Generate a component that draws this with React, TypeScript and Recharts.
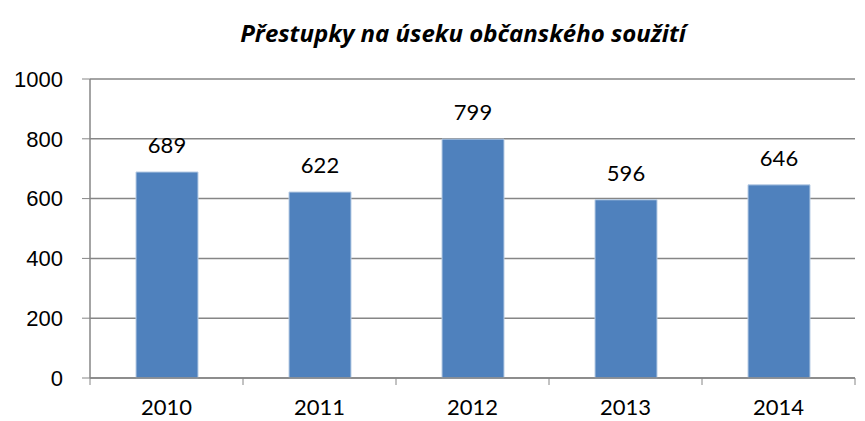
import React from 'react';
import { BarChart, Bar, XAxis, YAxis, CartesianGrid, LabelList } from 'recharts';

const years = ['2010', '2011', '2012', '2013', '2014'];
const offences = [689, 622, 799, 596, 646];
const yTicks = [0, 200, 400, 600, 800, 1000];

const chartData = years.map((year, i) => ({ year, value: offences[i] }));

const AXIS_COLOR = '#868686';
const BAND = 153;

// x-axis ticks sit between categories, like in Excel
const XTick = ({ x, y, payload, index }: any) => {
  const half = BAND / 2;
  return (
    <g>
      <line x1={x - half} x2={x - half} y1={y - 8} y2={y - 1} stroke={AXIS_COLOR} />
      {index === years.length - 1 && (
        <line x1={x + half} x2={x + half} y1={y - 8} y2={y - 1} stroke={AXIS_COLOR} />
      )}
      <text x={x} y={y + 29} textAnchor="middle" fill="#000" fontSize={22} fontFamily="Lato, 'Open Sans', sans-serif">
        {payload.value}
      </text>
    </g>
  );
};

export default function App() {
  return (
    <div style={{ position: 'absolute', left: 0, top: 0, width: 865, height: 421, background: '#fff' }}>
      <div
        style={{
          position: 'absolute',
          left: 0,
          width: 926,
          top: 16,
          textAlign: 'center',
          fontFamily: "'Open Sans', 'Noto Sans', sans-serif",
          fontWeight: 700,
          fontStyle: 'italic',
          fontSize: 24,
          lineHeight: '34px',
          color: '#000',
        }}
      >
        Přestupky na úseku občanského soužití
      </div>
      <BarChart
        width={865}
        height={421}
        data={chartData}
        margin={{ top: 79, right: 10, bottom: 0, left: 0 }}
        barSize={62}
      >
        <CartesianGrid vertical={false} stroke={AXIS_COLOR} strokeWidth={1.5} />
        <XAxis
          dataKey="year"
          axisLine={{ stroke: AXIS_COLOR, strokeWidth: 1.5 }}
          tickLine={false}
          tick={<XTick />}
          interval={0}
          height={43}
        />
        <YAxis
          width={90}
          domain={[0, 1000]}
          ticks={yTicks}
          interval={0}
          axisLine={{ stroke: AXIS_COLOR, strokeWidth: 1.5 }}
          tickLine={{ stroke: AXIS_COLOR }}
          tickSize={8}
          tickMargin={19}
          tick={{ fill: '#000', fontSize: 22, fontFamily: "'Liberation Sans', Arial, sans-serif" }}
        />
        <Bar dataKey="value" fill="#4F81BD" stroke="#B9CDE5" strokeWidth={1} isAnimationActive={false}>
          <LabelList
            dataKey="value"
            position="top"
            offset={19}
            fill="#000"
            fontSize={22}
            fontFamily="Lato, 'Open Sans', sans-serif"
          />
        </Bar>
      </BarChart>
    </div>
  );
}
